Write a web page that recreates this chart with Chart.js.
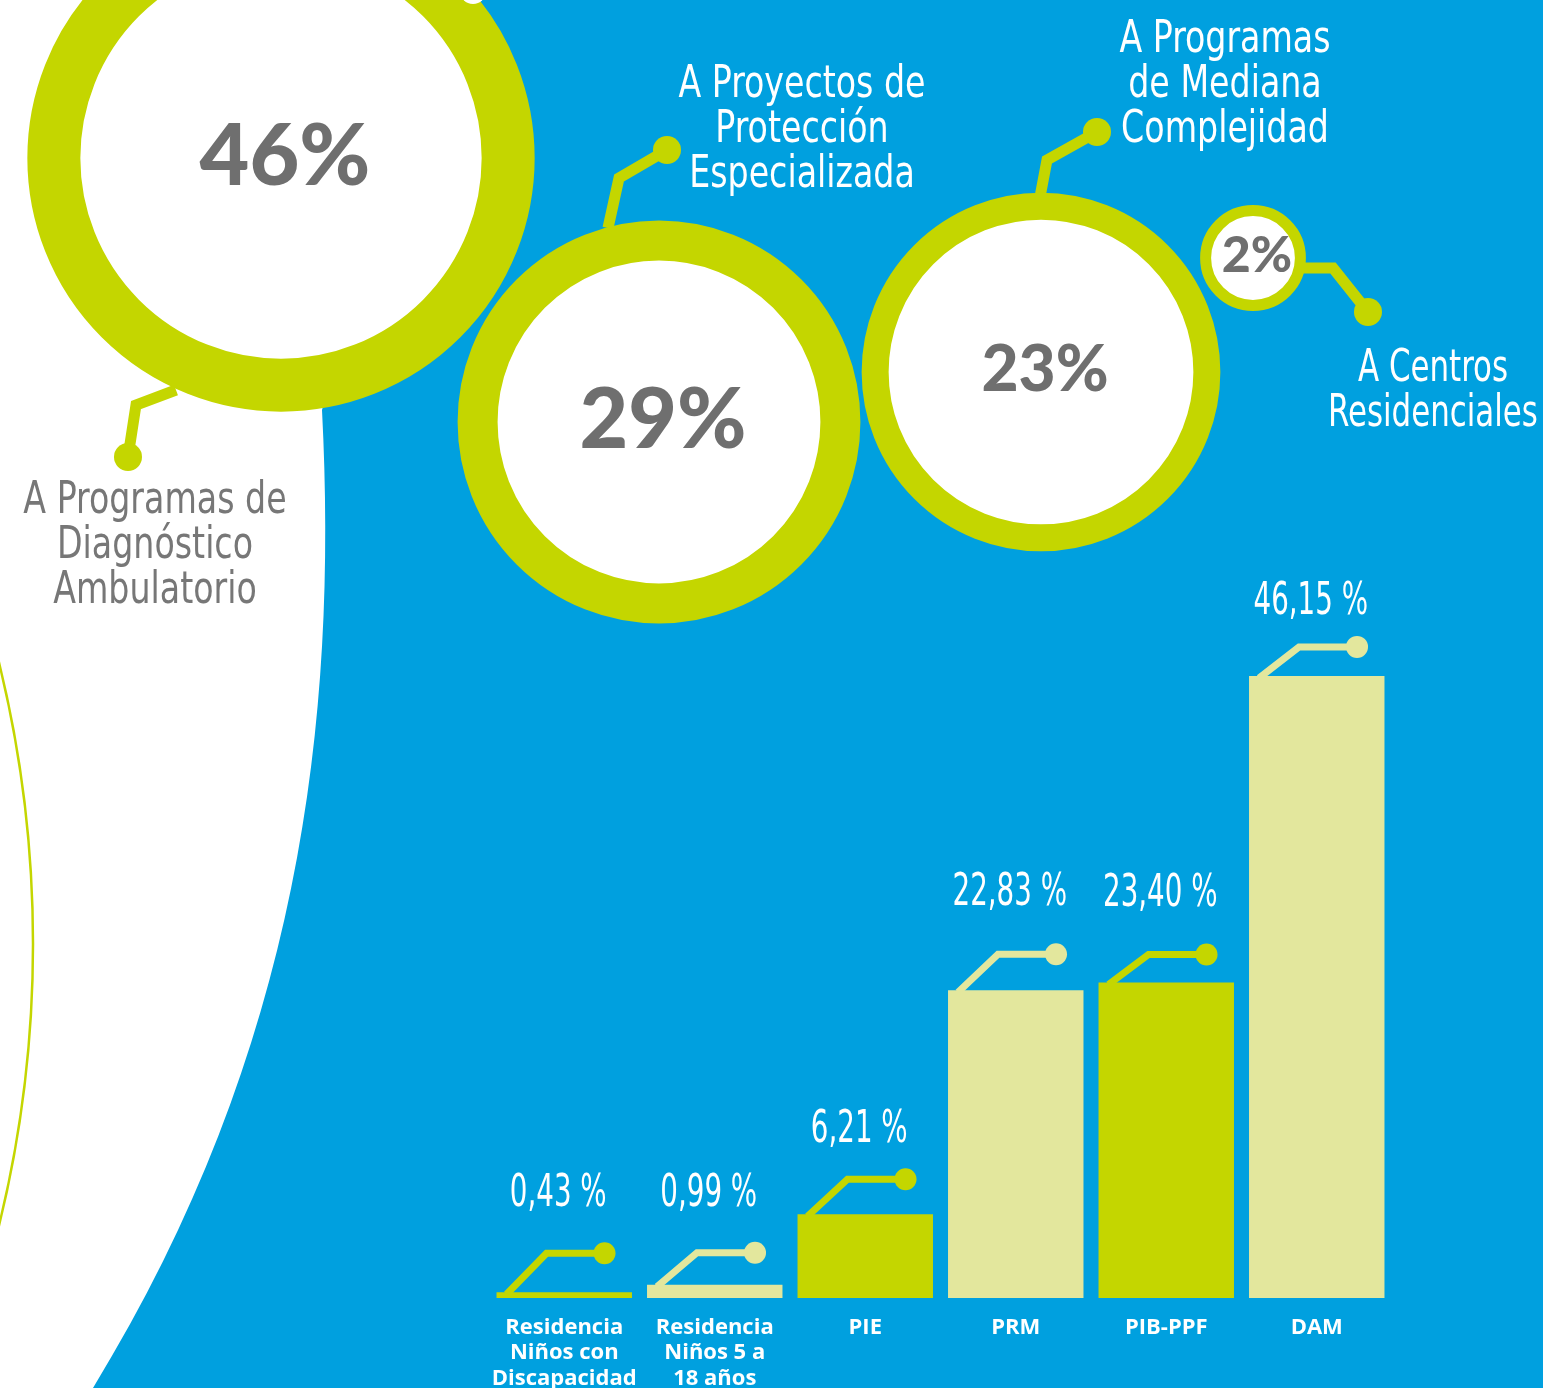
<!DOCTYPE html>
<html lang="es">
<head>
<meta charset="utf-8">
<title>Distribución de recursos</title>
<script src="https://cdn.jsdelivr.net/npm/chart.js@4.4.1/dist/chart.umd.min.js"></script>
<style>
  html, body { margin: 0; padding: 0; width: 1543px; height: 1388px; overflow: hidden; background: #00a0df; }
  .layer { position: absolute; left: 0; top: 0; }
</style>
</head>
<body>
<canvas id="bubbleChart" class="layer" width="1543" height="1388"></canvas>
<canvas id="barChart" class="layer" width="1543" height="1388"></canvas>
<script>
// ── Daten ─────────────────────────────────────────────────────────────────────
const programLabels = [
  ['A Programas de', 'Diagnóstico', 'Ambulatorio'],
  ['A Proyectos de', 'Protección', 'Especializada'],
  ['A Programas', 'de Mediana', 'Complejidad'],
  ['A Centros', 'Residenciales'],
];
const programShares = [46, 29, 23, 2];

const barCategories = [
  ['Residencia', 'Niños con', 'Discapacidad'],
  ['Residencia', 'Niños 5 a', '18 años'],
  'PIE', 'PRM', 'PIB-PPF', 'DAM',
];
const barValues = [0.43, 0.99, 6.21, 22.83, 23.40, 46.15];

// ── Stil / Layout ─────────────────────────────────────────────────────────────
const BLUE  = '#00a0df';
const GREEN = '#c4d600';
const PALE  = '#e3e79d';
const GREY  = '#6f6f6f';
const HAND  = '"DejaVu Sans Condensed", "Liberation Sans", sans-serif';
const BOLD  = '"Open Sans", "DejaVu Sans", sans-serif';

const barColors = [GREEN, PALE, GREEN, PALE, GREEN, PALE];
// Abstand Balkenoberkante → Verbinder-Punkt / Wertbeschriftung
const barDotRise   = [39, 32, 35, 36, 28, 29];
const barLabelRise = [102, 95, 88, 101, 93, 78];

// Flächen-proportional: Radius = k * sqrt(Anteil)
const AREA_K = 37.4;
const bubbleCenters = [[281, 158], [659, 422], [1041, 372], [1253, 258]];
const ringWidths    = [53, 40, 27, 11];
const pctFontSizes  = [86, 84, 64, 50];
// Verbinder: Start, Knick, Punkt (relativ zur Kreismitte)
const bubbleCallouts = [
  [[-105, 232], [-145, 247], [-153, 299]],
  [[-51, -194], [-40, -244], [8, -272]],
  [[-1, -175], [6, -212], [56, -240]],
  [[47, 10], [80, 10], [115, 54]],
];
const labelAnchors = [
  { x: 155,  y: 498, color: '#777', sx: 0.84 },
  { x: 802,  y: 82,  color: '#fff', sx: 0.84 },
  { x: 1225, y: 37,  color: '#fff', sx: 0.84 },
  { x: 1433, y: 366, color: '#fff', sx: 0.78 },
];

const fmtPct = v => v.toFixed(2).replace('.', ',') + ' %';

/** Schmal gestauchter Text (Ersatz für die Handschrift). */
function narrowText(ctx, text, x, y, sx) {
  ctx.save();
  ctx.translate(x, y);
  ctx.scale(sx, 1);
  ctx.fillText(text, 0, 0);
  ctx.restore();
}

// ── Hintergrund + Beschriftung der Kreise ─────────────────────────────────────
const bubbleDecor = {
  id: 'bubbleDecor',
  beforeDraw(chart) {
    const { ctx } = chart;
    ctx.save();
    ctx.fillStyle = BLUE;
    ctx.fillRect(0, 0, chart.width, chart.height);

    // weiße Fläche links
    ctx.fillStyle = '#fff';
    ctx.beginPath();
    ctx.moveTo(0, 0);
    ctx.lineTo(440, 0);
    ctx.lineTo(322, 410);
    ctx.bezierCurveTo(338, 720, 300, 1050, 93, 1388);
    ctx.lineTo(0, 1388);
    ctx.closePath();
    ctx.fill();

    // dünner grüner Bogen
    ctx.strokeStyle = GREEN;
    ctx.lineWidth = 2.5;
    ctx.beginPath();
    ctx.arc(-1150, 944, 1183, -0.26, 0.26);
    ctx.stroke();
    ctx.restore();
  },
  beforeDatasetsDraw(chart) {
    const { ctx } = chart;
    const meta = chart.getDatasetMeta(0);
    ctx.save();
    ctx.strokeStyle = GREEN;
    ctx.fillStyle = GREEN;
    ctx.lineWidth = 11;
    meta.data.forEach((el, i) => {
      const [a, b, c] = bubbleCallouts[i];
      ctx.beginPath();
      ctx.moveTo(el.x + a[0], el.y + a[1]);
      ctx.lineTo(el.x + b[0], el.y + b[1]);
      ctx.lineTo(el.x + c[0], el.y + c[1]);
      ctx.stroke();
      ctx.beginPath();
      ctx.arc(el.x + c[0], el.y + c[1], 14, 0, Math.PI * 2);
      ctx.fill();
    });
    ctx.restore();
  },
  afterDatasetsDraw(chart) {
    const { ctx } = chart;
    const meta = chart.getDatasetMeta(0);
    ctx.save();
    // kleiner weißer Punkt am oberen Rand
    ctx.fillStyle = '#fff';
    ctx.beginPath();
    ctx.arc(473, -9, 13, 0, Math.PI * 2);
    ctx.fill();

    ctx.textAlign = 'center';
    ctx.textBaseline = 'alphabetic';
    meta.data.forEach((el, i) => {
      const size = pctFontSizes[i];
      ctx.fillStyle = GREY;
      ctx.font = `900 ${size}px Lato, ${BOLD}`;
      ctx.fillText(programShares[i] + '%', el.x + 4, el.y - 4 + size * 0.36);

      const lab = labelAnchors[i];
      ctx.fillStyle = lab.color;
      ctx.font = `44px ${HAND}`;
      programLabels[i].forEach((line, j) => {
        narrowText(ctx, line, lab.x, lab.y + j * 45 + 15, lab.sx);
      });
    });
    ctx.restore();
  },
};

new Chart(document.getElementById('bubbleChart'), {
  type: 'bubble',
  data: {
    datasets: [{
      data: programShares.map((v, i) => ({
        x: bubbleCenters[i][0],
        y: bubbleCenters[i][1],
        r: AREA_K * Math.sqrt(v) - ringWidths[i] / 2,
      })),
      backgroundColor: '#fff',
      borderColor: GREEN,
      borderWidth: ringWidths,
      clip: false,
    }],
  },
  options: {
    responsive: false, animation: false, events: [],
    layout: { padding: 0, autoPadding: false },
    plugins: { legend: { display: false }, tooltip: { enabled: false } },
    scales: {
      x: { type: 'linear', min: 0, max: 1543, display: false },
      y: { type: 'linear', min: 0, max: 1388, reverse: true, display: false },
    },
  },
  plugins: [bubbleDecor],
});

// ── Balkendiagramm ────────────────────────────────────────────────────────────
const barCallouts = {
  id: 'barCallouts',
  afterDatasetsDraw(chart) {
    const { ctx } = chart;
    const meta = chart.getDatasetMeta(0);
    ctx.save();
    meta.data.forEach((bar, i) => {
      const left = bar.x - bar.width / 2;
      const top  = bar.y;
      const dotY = top - barDotRise[i];
      ctx.strokeStyle = barColors[i];
      ctx.fillStyle   = barColors[i];
      ctx.lineWidth = 7;
      ctx.beginPath();
      ctx.moveTo(left + 10, top + 2);
      ctx.lineTo(left + 50, dotY);
      ctx.lineTo(left + 108, dotY);
      ctx.stroke();
      ctx.beginPath();
      ctx.arc(left + 108, dotY, 11, 0, Math.PI * 2);
      ctx.fill();

      ctx.fillStyle = '#fff';
      ctx.font = `44px ${HAND}`;
      ctx.textAlign = 'center';
      ctx.textBaseline = 'alphabetic';
      narrowText(ctx, fmtPct(barValues[i]), bar.x - 6, top - barLabelRise[i] + 16, 0.7);
    });
    ctx.restore();
  },
};

new Chart(document.getElementById('barChart'), {
  type: 'bar',
  data: {
    labels: barCategories,
    datasets: [{
      data: barValues,
      backgroundColor: barColors,
      borderWidth: 0,
      barPercentage: 0.9,
      categoryPercentage: 1,
    }],
  },
  options: {
    responsive: false, animation: false, events: [],
    layout: { padding: { left: 489, right: 151, top: 624, bottom: 0 } },
    plugins: { legend: { display: false }, tooltip: { enabled: false } },
    scales: {
      x: {
        grid: { display: false, drawTicks: false },
        border: { display: false },
        ticks: {
          color: '#fff', padding: 17, maxRotation: 0, autoSkip: false,
          font: { family: BOLD, weight: 'bold', size: 22, lineHeight: 1.15 },
        },
        afterFit: axis => { axis.height = 90; },
      },
      y: { display: false, min: 0, max: 50 },
    },
  },
  plugins: [barCallouts],
});
</script>
</body>
</html>
